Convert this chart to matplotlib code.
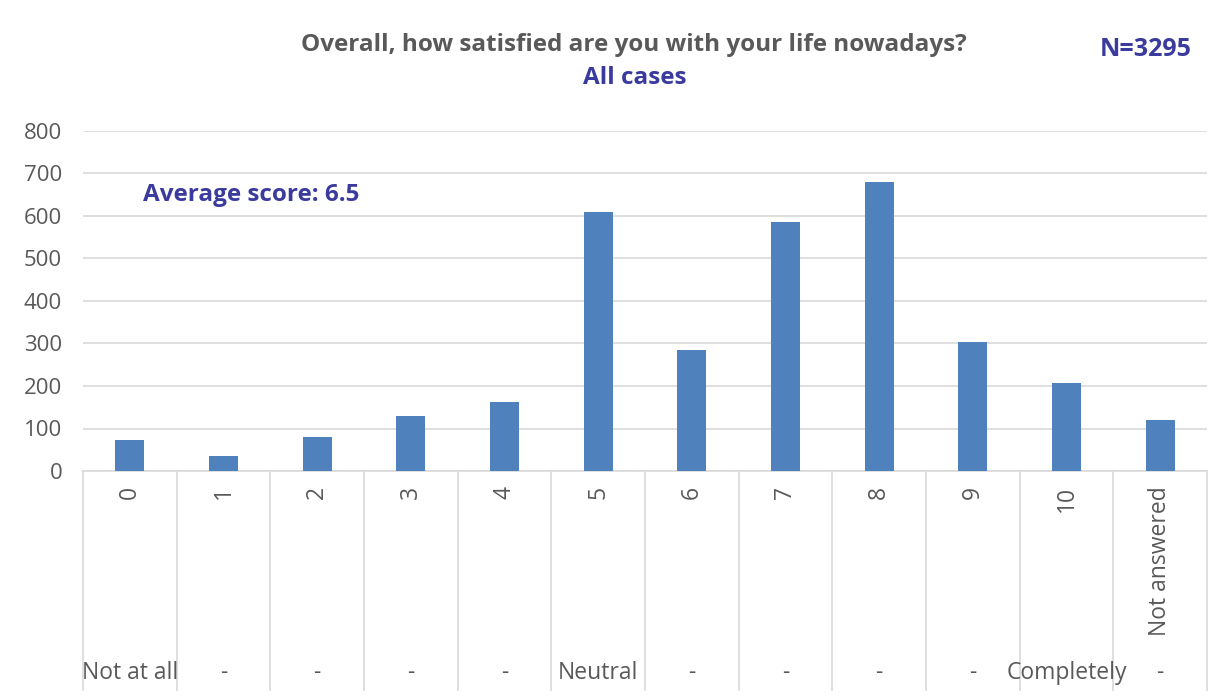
import matplotlib
matplotlib.use("Agg")
import matplotlib.pyplot as plt
import matplotlib.transforms as mtransforms
import numpy as np

categories = ["0", "1", "2", "3", "4", "5", "6", "7", "8", "9", "10", "Not answered"]
groups = ["Not at all", "-", "-", "-", "-", "Neutral", "-", "-", "-", "-", "Completely", "-"]
counts = [74, 35, 79, 130, 162, 610, 284, 587, 681, 304, 208, 121]
yticks = [0, 100, 200, 300, 400, 500, 600, 700, 800]

title = "Overall, how satisfied are you with your life nowadays?"
subtitle = "All cases"
n_text = "N=3295"
avg_text = "Average score: 6.5"

plt.rcParams['font.family'] = ['Open Sans', 'DejaVu Sans']

GRAY = '#595959'
BLUE_TXT = '#3B3B9E'
BAR = '#4F81BD'
GRID = '#D9D9D9'

W, H = 1224, 700
fig = plt.figure(figsize=(W / 100, H / 100), dpi=100)
left, right, bottom, top = 83, 1207, 471, 131
ax = fig.add_axes([left / W, 1 - bottom / H, (right - left) / W, (bottom - top) / H])

x = np.arange(len(categories))
ax.bar(x, counts, width=0.31, color=BAR, zorder=3)
ax.set_xlim(-0.5, len(categories) - 0.5)
ax.set_ylim(0, 800)
ax.set_yticks(yticks)
ax.set_yticklabels([str(v) for v in yticks], fontsize=16, color=GRAY)
ax.tick_params(axis='y', length=0, pad=15)
ax.yaxis.grid(True, color=GRID, linewidth=1.2, zorder=0)
for s in ['top', 'right', 'left']:
    ax.spines[s].set_visible(False)
ax.spines['bottom'].set_color(GRID)
ax.spines['bottom'].set_linewidth(1.2)

ax.set_xticks(x)
ax.set_xticklabels(categories, rotation=90, fontsize=16.5, color=GRAY, va='top')
ax.tick_params(axis='x', length=0, pad=11)

trans = mtransforms.blended_transform_factory(ax.transData, ax.transAxes)
axh = bottom - top
low = -(690 - bottom) / axh
for i in range(len(categories) + 1):
    ax.plot([i - 0.5, i - 0.5], [0, low], transform=trans, color=GRID, lw=1.2, clip_on=False)
gy = -(673 - bottom) / axh
for i, g in enumerate(groups):
    ax.text(i, gy, g, transform=trans, ha='center', va='center', fontsize=16.5, color=GRAY)

fig.text(634 / W, 1 - 45 / H, title, ha='center', va='center', fontsize=17.5, fontweight='bold', color=GRAY)
fig.text(635 / W, 1 - 78 / H, subtitle, ha='center', va='center', fontsize=17.5, fontweight='bold', color=BLUE_TXT)
fig.text(1146 / W, 1 - 50 / H, n_text, ha='center', va='center', fontsize=18, fontweight='bold', color=BLUE_TXT)
fig.text(251 / W, 1 - 195 / H, avg_text, ha='center', va='center', fontsize=17.5, fontweight='bold', color=BLUE_TXT)

fig.savefig("out.png", dpi=100, facecolor='white')
